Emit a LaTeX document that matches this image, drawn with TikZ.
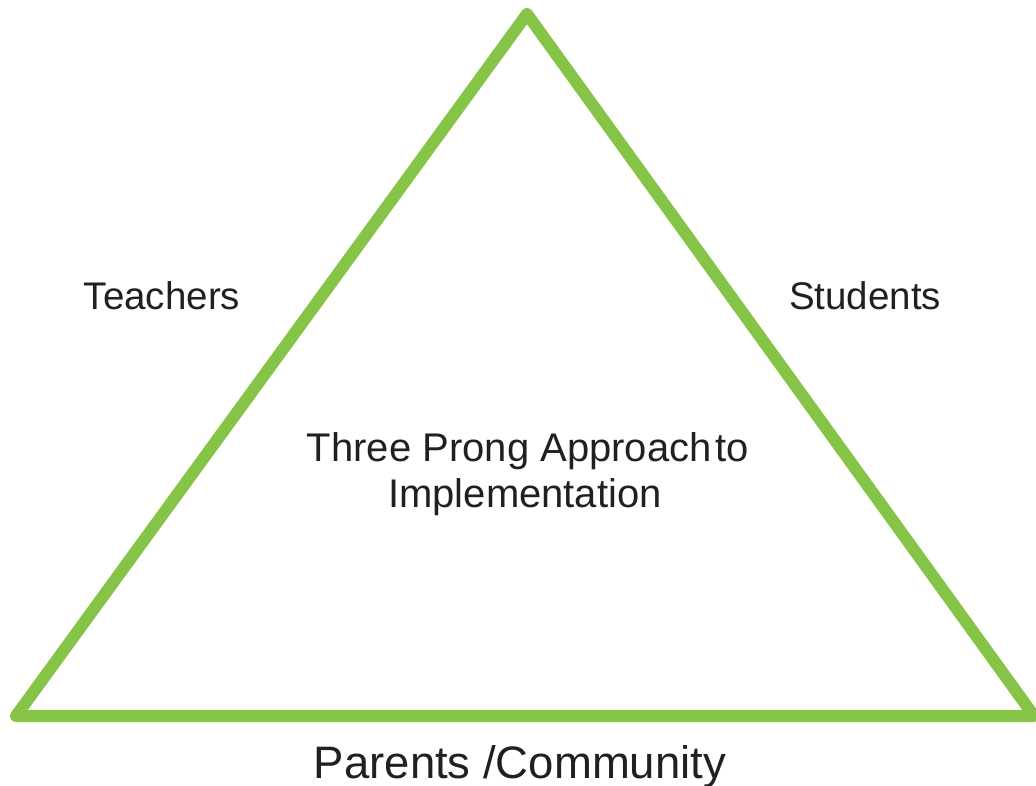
\documentclass[tikz,border=0pt]{standalone}
\usepackage{fontspec}
\setmainfont{Liberation Sans}
\definecolor{prong}{RGB}{134,196,72}
\definecolor{ink}{RGB}{35,31,32}
\begin{document}
\begin{tikzpicture}[x=1pt,y=-1pt,
  side/.style={draw=prong,line width=12pt,line join=round,line cap=round},
  lbl/.style={text=ink,font=\fontsize{38.5}{44}\selectfont,anchor=base,inner sep=0pt},
  mid/.style={text=ink,font=\fontsize{40}{46}\selectfont,anchor=base,inner sep=0pt},
  bigl/.style={text=ink,font=\fontsize{45.5}{52}\selectfont,anchor=base,inner sep=0pt}]
  \useasboundingbox (0,0) rectangle (1036,786);
  \begin{scope}
    \clip (0,0) rectangle (1036,786);
    \coordinate (apex) at (527,14);
    \coordinate (bl) at (16,716);
    \coordinate (br) at (1034,716);
    \draw[side] (apex) -- (br) -- (bl) -- cycle;
  \end{scope}
  \node[lbl] (teachers) at (162,309) {Teachers};
  \node[lbl] (students) at (865,309) {Students};
  \node[mid] (centre1) at (528,461) {Three Prong Approach\hspace{0.1em}to};
  \node[mid] (centre2) at (525,507) {Implementation};
  \node[bigl] (parents) at (520,778) {Parents /Community};
\end{tikzpicture}
\end{document}
